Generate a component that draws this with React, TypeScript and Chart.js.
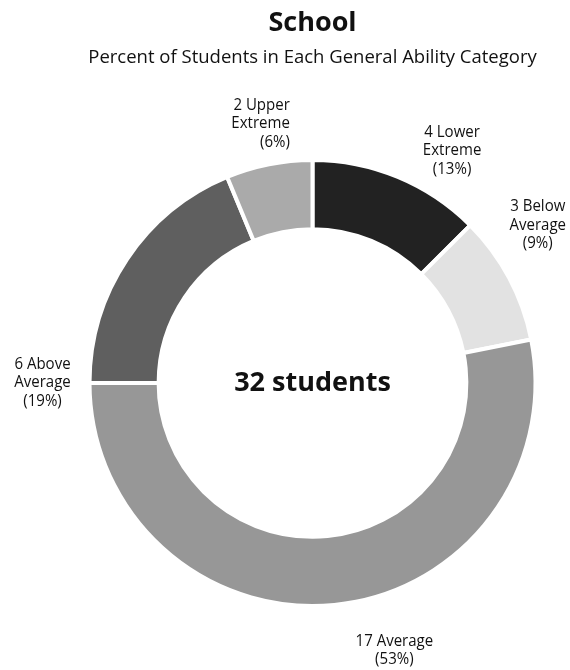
import React, { useEffect, useRef } from "react";
import { Chart, registerables } from "chart.js";

Chart.register(...registerables);

// Ability categories, clockwise from 12 o'clock
const categories = ["Lower Extreme", "Below Average", "Average", "Above Average", "Upper Extreme"];
const studentCounts = [4, 3, 17, 6, 2];
const percentLabels = ["13%", "9%", "53%", "19%", "6%"];
const totalStudents = 32;

const titleText = "School";
const subtitleText = "Percent of Students in Each General Ability Category";

// Callout label text: count + category split over lines, then the percent
const calloutLines = [
  ["4 Lower", "Extreme", "(13%)"],
  ["3 Below", "Average", "(9%)"],
  ["17 Average", "(53%)"],
  ["6 Above", "Average", "(19%)"],
  ["2 Upper", "Extreme", "(6%)"],
];

// Callout placement: direction (degrees clockwise from top), gap beyond the ring, text alignment
const calloutAngles = [31, 55, 163, 270, 355];
const calloutGaps = [48, 52, 57, 47, 37];
const calloutAlign: CanvasTextAlign[] = ["center", "center", "center", "center", "right"];

const sliceColors = ["#222222", "#e2e2e2", "#979797", "#5f5f5f", "#aaaaaa"];
const textColor = "#111111";
const labelFont = "15.5px 'Open Sans'";
const labelSquash = 0.97;
const lineHeight = 18.5;

const annotations = {
  id: "annotations",
  afterDraw(chart: any) {
    const ctx: CanvasRenderingContext2D = chart.ctx;
    const meta = chart.getDatasetMeta(0);
    const arc0 = meta.data[0];
    const cx = arc0.x;
    const cy = arc0.y;
    const outer = arc0.outerRadius;
    ctx.save();
    ctx.fillStyle = textColor;
    ctx.textBaseline = "middle";

    // Titles
    ctx.font = "bold 27px 'Open Sans'";
    drawSquashed(ctx, titleText, cx, 23, 1.0, "center");
    ctx.font = "18.5px 'Open Sans'";
    drawSquashed(ctx, subtitleText, cx, 58, 1.0, "center");

    // Center total
    ctx.font = "bold 27px 'Open Sans'";
    drawSquashed(ctx, `${totalStudents} students`, cx, cy, 1.0, "center");

    // Callouts
    ctx.font = labelFont;
    calloutLines.forEach((lines, i) => {
      const a = (calloutAngles[i] * Math.PI) / 180;
      const r = outer + calloutGaps[i];
      const x = cx + r * Math.sin(a);
      const y = cy - r * Math.cos(a);
      lines.forEach((line, j) => {
        const ly = y + (j - (lines.length - 1) / 2) * lineHeight;
        drawSquashed(ctx, line, x, ly, labelSquash, calloutAlign[i]);
      });
    });
    ctx.restore();
  },
};

function drawSquashed(
  ctx: CanvasRenderingContext2D,
  text: string,
  x: number,
  y: number,
  sx: number,
  align: CanvasTextAlign
) {
  ctx.save();
  ctx.translate(x, y);
  ctx.scale(sx, 1);
  ctx.textAlign = align;
  ctx.fillText(text, 0, 0);
  ctx.restore();
}

export default function App() {
  const canvasRef = useRef<HTMLCanvasElement | null>(null);

  useEffect(() => {
    const canvas = canvasRef.current;
    if (!canvas) return;
    const chart = new Chart(canvas, {
      type: "doughnut",
      data: {
        labels: categories.map((c, i) => `${c} (${percentLabels[i]})`),
        datasets: [
          {
            data: studentCounts,
            backgroundColor: sliceColors,
            borderColor: "#ffffff",
            borderWidth: 4,
          },
        ],
      },
      options: {
        responsive: false,
        animation: false,
        devicePixelRatio: 1,
        cutout: "69%",
        layout: { padding: { left: 87, right: 32, top: 158, bottom: 62 } },
        plugins: {
          legend: { display: false },
          tooltip: { enabled: false },
          title: { display: false },
        },
      },
      plugins: [annotations],
    });
    return () => chart.destroy();
  }, []);

  return (
    <div style={{ position: "absolute", left: 0, top: 0, width: 570, height: 670, background: "#ffffff" }}>
      <canvas ref={canvasRef} width={570} height={670} />
    </div>
  );
}
